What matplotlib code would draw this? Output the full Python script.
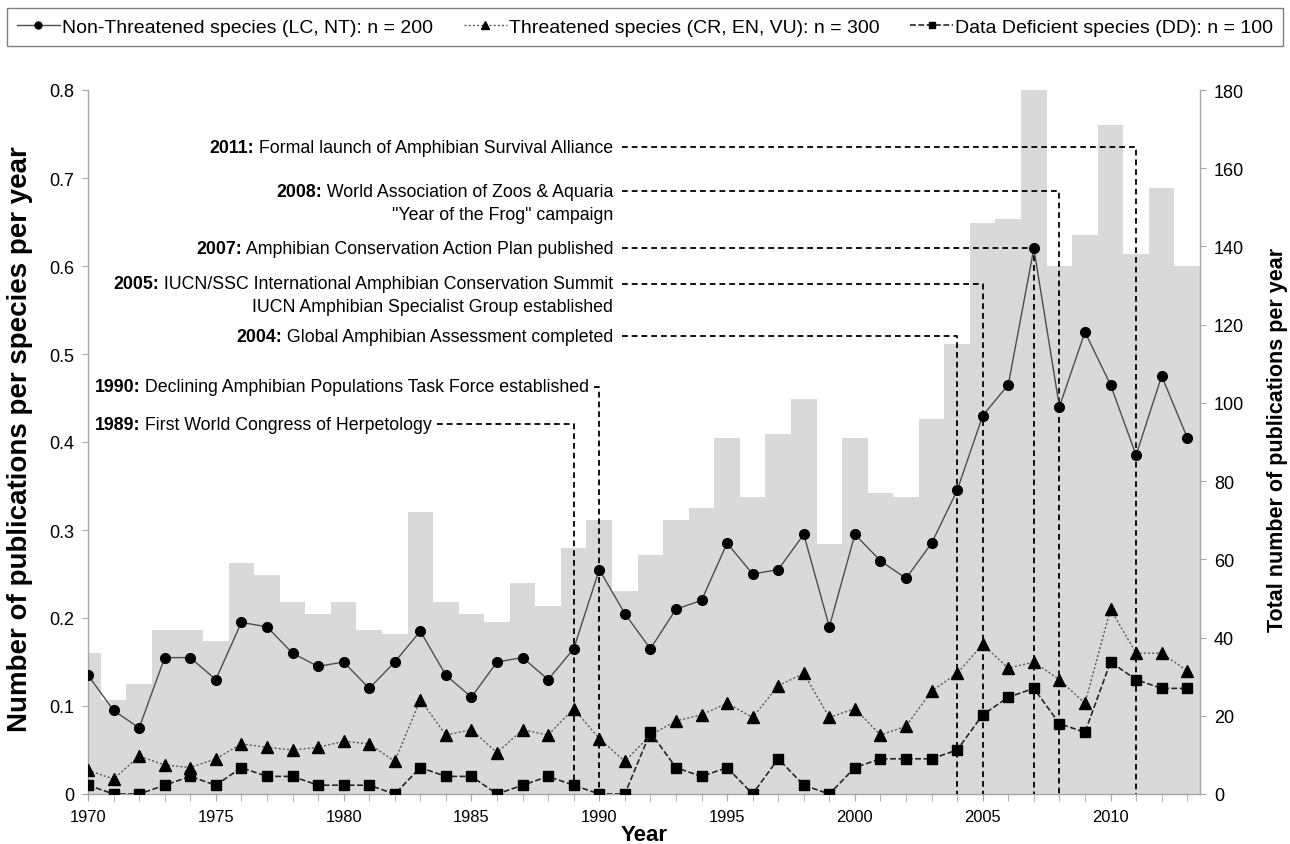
import matplotlib
matplotlib.use("Agg")
import matplotlib.pyplot as plt
from matplotlib import font_manager as fm
from matplotlib.lines import Line2D

# ---- data -------------------------------------------------------------
years = list(range(1970, 2014))

total_pubs = [36, 24, 28, 42, 42, 39, 59, 56, 49, 46,
              49, 42, 41, 72, 49, 46, 44, 54, 48, 63,
              70, 52, 61, 70, 73, 91, 76, 92, 101, 64,
              91, 77, 76, 96, 115, 146, 147, 180, 135, 143,
              171, 138, 155, 135]

non_threatened = [0.135, 0.095, 0.075, 0.155, 0.155, 0.130, 0.195, 0.190, 0.160, 0.145,
                  0.150, 0.120, 0.150, 0.185, 0.135, 0.110, 0.150, 0.155, 0.130, 0.165,
                  0.255, 0.205, 0.165, 0.210, 0.220, 0.285, 0.250, 0.255, 0.295, 0.190,
                  0.295, 0.265, 0.245, 0.285, 0.345, 0.430, 0.465, 0.620, 0.440, 0.525,
                  0.465, 0.385, 0.475, 0.405]

threatened = [0.027, 0.017, 0.043, 0.033, 0.030, 0.040, 0.057, 0.053, 0.050, 0.053,
              0.060, 0.057, 0.037, 0.107, 0.067, 0.073, 0.047, 0.073, 0.067, 0.097,
              0.063, 0.037, 0.067, 0.083, 0.090, 0.103, 0.087, 0.123, 0.137, 0.087,
              0.097, 0.067, 0.077, 0.117, 0.137, 0.170, 0.143, 0.150, 0.130, 0.103,
              0.210, 0.160, 0.160, 0.140]

data_deficient = [0.01, 0.00, 0.00, 0.01, 0.02, 0.01, 0.03, 0.02, 0.02, 0.01,
                  0.01, 0.01, 0.00, 0.03, 0.02, 0.02, 0.00, 0.01, 0.02, 0.01,
                  0.00, 0.00, 0.07, 0.03, 0.02, 0.03, 0.00, 0.04, 0.01, 0.00,
                  0.03, 0.04, 0.04, 0.04, 0.05, 0.09, 0.11, 0.12, 0.08, 0.07,
                  0.15, 0.13, 0.12, 0.12]

series_labels = ["Non-Threatened species (LC, NT): n = 200",
                 "Threatened species (CR, EN, VU): n = 300",
                 "Data Deficient species (DD): n = 100"]

# milestones: year, bold prefix, description lines, height on left axis
event_years = [2011, 2008, 2007, 2005, 2004, 1990, 1989]
event_heads = ["2011:", "2008:", "2007:", "2005:", "2004:", "1990:", "1989:"]
event_lines = [["Formal launch of Amphibian Survival Alliance"],
               ["World Association of Zoos & Aquaria", "\"Year of the Frog\" campaign"],
               ["Amphibian Conservation Action Plan published"],
               ["IUCN/SSC International Amphibian Conservation Summit",
                "IUCN Amphibian Specialist Group established"],
               ["Global Amphibian Assessment completed"],
               ["Declining Amphibian Populations Task Force established"],
               ["First World Congress of Herpetology"]]
event_levels = [0.735, 0.685, 0.620, 0.580, 0.520, 0.463, 0.420]

left_ticks = [0, 0.1, 0.2, 0.3, 0.4, 0.5, 0.6, 0.7, 0.8]
right_ticks = [0, 20, 40, 60, 80, 100, 120, 140, 160, 180]
year_labels = [1970, 1975, 1980, 1985, 1990, 1995, 2000, 2005, 2010]


# ---- fonts ------------------------------------------------------------
def available(name):
    try:
        fm.findfont(fm.FontProperties(family=name), fallback_to_default=False)
        return True
    except Exception:
        return False


NARROW = "Liberation Sans Narrow" if available("Liberation Sans Narrow") else "Liberation Sans"
narrow_scale = 1.0 if NARROW == "Liberation Sans Narrow" else 0.85
REG = "Liberation Sans"

# ---- figure -----------------------------------------------------------
fig = plt.figure(figsize=(12.9, 8.45), dpi=100)
ax = fig.add_axes([88 / 1290, 1 - 795 / 845, (1200 - 88) / 1290, (795 - 91) / 845])
ax2 = ax.twinx()

spine_c = "#a6a6a6"

# background bars: total publications (right axis)
ax2.bar(years, total_pubs, width=1.0, align="center", color="#d9d9d9",
        edgecolor="none", zorder=1)
ax2.set_ylim(0, 180)

ax.set_zorder(ax2.get_zorder() + 1)
ax.patch.set_visible(False)

ax.set_xlim(1970, 2013.5)
ax.set_ylim(0, 0.8)

# per-species series (left axis)
ax.plot(years, non_threatened, color="#4d4d4d", lw=1.0, ls="-",
        marker="o", ms=7, mfc="black", mec="black", zorder=5)
ax.plot(years, threatened, color="#595959", lw=1.0, ls=(0, (1.5, 1.5)),
        marker="^", ms=8, mfc="black", mec="black", zorder=5)
ax.plot(years, data_deficient, color="#262626", lw=1.2, ls=(0, (3.5, 1.5)),
        marker="s", ms=7, mfc="black", mec="black", zorder=5)

# axes styling
for a in (ax, ax2):
    a.spines["top"].set_visible(False)
    for s in ("left", "right", "bottom"):
        a.spines[s].set_color(spine_c)
        a.spines[s].set_linewidth(1.0)
ax.spines["right"].set_visible(False)
ax2.spines["left"].set_visible(False)
ax2.spines["bottom"].set_visible(False)

ax.set_yticks(left_ticks)
ax.set_yticklabels(["0" if v == 0 else f"{v:.1f}" for v in left_ticks],
                   fontfamily=REG, fontsize=13)
ax2.set_yticks(right_ticks)
ax2.set_yticklabels([str(v) for v in right_ticks], fontfamily=REG, fontsize=13)
ax.set_xticks(year_labels)
ax.set_xticklabels([str(y) for y in year_labels], fontfamily=NARROW,
                   fontsize=14 * narrow_scale)
ax.set_xticks(years, minor=True)
ax.tick_params(axis="x", which="both", direction="out", length=5, color=spine_c, pad=6)
ax.tick_params(axis="y", direction="out", length=4, color=spine_c, pad=6)
ax2.tick_params(axis="y", direction="out", length=4, color=spine_c, pad=6)

ax.set_xlabel("Year", fontfamily=REG, fontsize=16, fontweight="bold", labelpad=0)
ax.set_ylabel("Number of publications per species per year", fontfamily=REG,
              fontsize=20, fontweight="bold", va="center", ha="center")
ax.yaxis.set_label_coords(-0.0610, 0.505)
ax2.set_ylabel("Total number of publications per year", fontfamily=REG,
               fontsize=15.5, fontweight="bold", rotation=90, va="center", ha="center")
ax2.yaxis.set_label_coords(1.0695, 0.505)

# ---- milestone annotations ------------------------------------------
fig.canvas.draw()
renderer = fig.canvas.get_renderer()
inv = ax.transData.inverted()
ann_fs = 15 * narrow_scale
line_gap = 0.026
right_edge_x = 1990.55
left_edge_x = 1970.25
dash = dict(color="black", lw=1.3, ls=(0, (3.2, 2.2)), zorder=3)


def data_x(px):
    return inv.transform((px, 0))[0]


for yr, head, lines, lvl in zip(event_years, event_heads, event_lines, event_levels):
    if yr >= 2000:
        first = ax.text(right_edge_x, lvl, " " + lines[0], ha="right", va="center",
                        fontfamily=NARROW, fontsize=ann_fs, zorder=6)
        bb = first.get_window_extent(renderer)
        ax.text(data_x(bb.x0), lvl, head, ha="right", va="center",
                fontfamily=NARROW, fontsize=ann_fs, fontweight="bold", zorder=6)
        for k, extra in enumerate(lines[1:], start=1):
            ax.text(right_edge_x, lvl - k * line_gap, extra, ha="right", va="center",
                    fontfamily=NARROW, fontsize=ann_fs, zorder=6)
        x_start = data_x(bb.x1 + 9)
    else:
        h = ax.text(left_edge_x, lvl, head, ha="left", va="center",
                    fontfamily=NARROW, fontsize=ann_fs, fontweight="bold", zorder=6)
        hb = h.get_window_extent(renderer)
        body = ax.text(data_x(hb.x1), lvl, " " + lines[0], ha="left", va="center",
                       fontfamily=NARROW, fontsize=ann_fs, zorder=6)
        bb = body.get_window_extent(renderer)
        x_start = data_x(bb.x1 + 5)
    ax.plot([x_start, yr, yr], [lvl, lvl, 0], clip_on=False, **dash)

# ---- legend -----------------------------------------------------------
handles = [
    Line2D([], [], color="#4d4d4d", lw=1.0, ls="-", marker="o", ms=5,
           mfc="black", mec="black"),
    Line2D([], [], color="#595959", lw=1.0, ls=(0, (1.5, 1.5)), marker="^", ms=6,
           mfc="black", mec="black"),
    Line2D([], [], color="#262626", lw=1.2, ls=(0, (3.5, 1.5)), marker="s", ms=5,
           mfc="black", mec="black"),
]
leg = fig.legend(handles, series_labels, loc="center",
                 bbox_to_anchor=(0.5, 1 - 28 / 845), ncol=3, frameon=True,
                 fancybox=False, edgecolor="#808080", framealpha=1,
                 prop=fm.FontProperties(family=NARROW, size=16.5 * narrow_scale),
                 handlelength=2.2, handletextpad=0.1, columnspacing=1.6,
                 borderpad=0.5, borderaxespad=0)
leg.get_frame().set_linewidth(1.0)

fig.savefig("out.png", dpi=100)
